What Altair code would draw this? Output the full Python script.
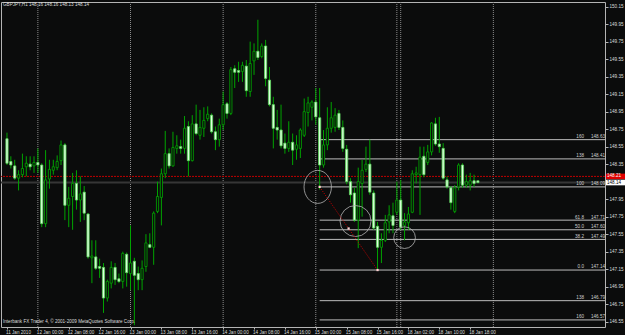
import altair as alt
import pandas as pd

symbol_title = "GBPJPY,H1  148.16 148.16 148.13 148.14"
copyright_text = "Interbank FX Trader 4, \u00a9 2001-2009 MetaQuotes Software Corp."

opens = [
    148.64, 148.38, 148.33, 148.19, 148.23, 148.32, 148.35, 148.33, 148.37, 148.34,
    147.67, 148.18, 148.28, 148.31, 148.39, 148.57, 147.88, 147.98, 148.13, 147.94,
    148.03, 147.78, 147.28, 147.29, 147.18, 147.17, 146.82, 146.99, 147.17, 147.04,
    147.01, 147.32, 147.10, 147.24, 147.10, 147.03, 147.18, 147.43, 147.40, 147.81,
    147.97, 148.24, 148.47, 148.33, 148.53, 148.55, 148.53, 148.78, 148.39, 148.81,
    148.68, 148.76, 148.87, 148.91, 148.72, 148.63, 148.80, 149.04, 148.93, 149.44,
    149.42, 149.41, 149.47, 149.18, 149.53, 149.64, 149.58, 149.70, 149.31, 149.03,
    148.77, 148.74, 148.59, 148.53, 148.60, 148.52, 148.53, 148.68, 148.94, 149.00,
    149.06, 148.88, 148.34, 148.57, 148.76, 148.77, 148.93, 148.77, 148.52, 148.15,
    148.02, 147.71, 148.13, 148.29, 148.35, 148.02, 147.64, 147.40, 147.48, 147.69,
    147.76, 147.80, 147.94, 147.65, 147.68, 147.80, 148.23, 148.23, 148.44, 148.37,
    148.49, 148.81, 148.58, 148.53, 148.17, 148.08, 147.81, 148.09, 148.34, 148.11,
    148.11, 148.16, 148.16,
]
highs = [
    148.71, 148.44, 148.40, 148.28, 148.47, 148.44, 148.44, 148.44, 148.53, 148.36,
    148.51, 148.40, 148.40, 148.45, 148.62, 148.59, 148.09, 148.25, 148.28, 148.21,
    148.10, 147.79, 147.48, 147.48, 147.27, 147.22, 147.03, 147.24, 147.22, 147.10,
    147.35, 147.34, 147.65, 147.28, 147.18, 147.25, 147.55, 147.56, 147.81, 148.15,
    148.30, 148.73, 148.53, 148.72, 148.68, 148.63, 148.90, 148.84, 148.91, 149.03,
    148.97, 149.00, 149.01, 148.93, 148.78, 148.87, 149.18, 149.06, 149.46, 149.48,
    149.52, 149.52, 149.54, 149.75, 149.73, 150.00, 149.73, 149.77, 149.46, 149.12,
    148.97, 149.03, 148.70, 148.84, 148.70, 148.68, 148.76, 149.10, 149.12, 149.08,
    149.22, 149.22, 148.74, 149.00, 149.06, 148.99, 148.97, 148.85, 148.57, 148.19,
    148.08, 148.31, 148.40, 148.55, 148.63, 148.05, 147.69, 147.56, 147.77, 147.88,
    147.91, 148.15, 148.17, 147.79, 147.86, 148.28, 148.32, 148.55, 148.55, 148.57,
    148.83, 148.88, 148.89, 148.59, 148.21, 148.10, 148.11, 148.36, 148.36, 148.23,
    148.25, 148.23, 148.16,
]
lows = [
    148.34, 148.30, 148.17, 148.05, 148.20, 148.21, 148.28, 148.25, 148.25, 147.63,
    147.63, 148.07, 148.23, 148.28, 148.34, 147.71, 147.63, 147.60, 147.83, 147.69,
    147.71, 147.27, 146.99, 147.14, 147.05, 146.65, 146.78, 146.93, 146.97, 146.99,
    146.93, 146.95, 146.91, 146.51, 146.91, 146.91, 147.12, 147.39, 147.20, 147.79,
    147.65, 148.19, 148.30, 148.32, 148.47, 148.47, 148.47, 148.21, 148.38, 148.68,
    148.63, 148.66, 148.84, 148.70, 148.51, 148.55, 148.74, 148.87, 148.91, 149.22,
    149.29, 149.29, 149.12, 149.12, 149.37, 149.54, 149.56, 149.24, 149.01, 148.53,
    148.63, 148.53, 148.47, 148.49, 148.34, 148.40, 148.42, 148.66, 148.78, 148.85,
    148.80, 148.06, 148.31, 148.51, 148.71, 148.72, 148.74, 148.49, 148.12, 147.91,
    147.69, 147.39, 147.75, 148.26, 148.00, 147.60, 147.14, 147.22, 147.46, 147.56,
    147.56, 147.77, 147.60, 147.48, 147.60, 147.79, 148.13, 147.77, 148.20, 148.34,
    148.45, 148.56, 148.48, 148.17, 148.07, 147.83, 147.79, 148.05, 148.08, 148.08,
    148.05, 148.09, 148.13,
]
closes = [
    148.36, 148.34, 148.19, 148.23, 148.30, 148.36, 148.32, 148.37, 148.34, 147.67,
    148.17, 148.29, 148.32, 148.38, 148.57, 147.88, 147.96, 148.13, 147.94, 148.01,
    147.79, 147.29, 147.30, 147.16, 147.16, 146.82, 147.01, 147.17, 147.03, 147.01,
    147.33, 147.11, 147.22, 147.08, 147.03, 147.16, 147.45, 147.40, 147.79, 147.98,
    148.24, 148.47, 148.33, 148.54, 148.56, 148.53, 148.76, 148.39, 148.81, 148.70,
    148.77, 148.85, 148.92, 148.72, 148.63, 148.80, 149.03, 148.93, 149.43, 149.40,
    149.40, 149.48, 149.19, 149.50, 149.64, 149.57, 149.70, 149.33, 149.03, 148.76,
    148.74, 148.56, 148.53, 148.60, 148.51, 148.57, 148.74, 148.95, 149.05, 149.06,
    148.89, 148.34, 148.57, 148.76, 148.88, 148.91, 148.77, 148.53, 148.15, 148.00,
    147.71, 148.15, 148.28, 148.35, 148.03, 147.62, 147.40, 147.48, 147.68, 147.77,
    147.65, 147.94, 147.63, 147.69, 147.78, 148.24, 148.25, 148.43, 148.23, 148.49,
    148.82, 148.58, 148.55, 148.19, 148.09, 147.91, 148.08, 148.34, 148.11, 148.15,
    148.16, 148.13, 148.14,
]

time_tick_bars = [0, 8, 16, 24, 32, 40, 48, 56, 64, 72, 80, 88, 96, 104, 112, 120]
time_tick_labels = [
    "11 Jan 2010", "12 Jan 00:00", "12 Jan 08:00", "12 Jan 16:00",
    "13 Jan 00:00", "13 Jan 08:00", "13 Jan 16:00", "14 Jan 00:00",
    "14 Jan 08:00", "14 Jan 16:00", "15 Jan 00:00", "15 Jan 08:00",
    "15 Jan 16:00", "18 Jan 02:00", "18 Jan 10:00", "18 Jan 18:00",
]
day_separator_bars = [8, 32, 56, 80, 101, 102, 126]
# 148.15 is hidden under the bid price box in the reference
price_ticks = [146.55, 146.75, 146.95, 147.15, 147.35, 147.55, 147.75, 147.95,
               148.35, 148.55, 148.75, 148.95, 149.15, 149.35, 149.55,
               149.75, 149.95, 150.15]

fib_level_names = ["160", "138", "100", "61.8", "50.0", "38.2", "0.0", "138", "160"]
fib_level_prices = [148.63, 148.41, 148.09, 147.71, 147.60, 147.49, 147.14, 146.79, 146.57]
fib_start_bar = 81

bid_price = 148.14
ask_price = 148.21

trend_bars = [81, 88.5, 96]
trend_prices = [148.09, 147.615, 147.14]

circle_bars = [80.5, 90.3, 103.0]
circle_prices = [148.09, 147.70, 147.51]

# ---------------------------------------------------------------- styling
BG = "#0b0c0c"
FONT = "Liberation Sans"
FS = 4.6
TXT = "#dcdcdc"

x_scale = alt.Scale(domain=[-0.255, 153.63], nice=False, zero=False)
y_scale = alt.Scale(domain=[146.489, 150.203], nice=False, zero=False)

labels_js = "[" + ",".join("'" + t + "'" for t in time_tick_labels) + "]"
bars_js = "[" + ",".join(str(b) for b in time_tick_bars) + "]"

x_axis = alt.Axis(
    values=time_tick_bars,
    labelExpr=labels_js + "[indexof(" + bars_js + ", datum.value)]",
    labelAlign="left", labelBaseline="top", labelOffset=-1.5,
    labelFont=FONT, labelFontSize=FS, labelColor=TXT, labelPadding=0,
    labelFlush=False, labelOverlap=False, labelBound=False,
    tickSize=2, tickColor="#b4b4b4", domain=False, grid=False, title=None,
)
y_axis = alt.Axis(
    orient="right", values=price_ticks, format=".2f",
    labelFont=FONT, labelFontSize=FS, labelColor=TXT, labelPadding=1,
    labelOverlap=False, labelFlush=False, labelBound=False,
    tickSize=3, tickColor="#b4b4b4", domain=False, grid=False, title=None,
)


def X(field):
    return alt.X(field, scale=x_scale, axis=x_axis)


def Y(field):
    return alt.Y(field, scale=y_scale, axis=y_axis)


bars = pd.DataFrame({
    "bar": list(range(len(opens))),
    "open": opens, "high": highs, "low": lows, "close": closes,
})

sep_df = pd.DataFrame({"bar": day_separator_bars})
fib_df = pd.DataFrame({
    "name": fib_level_names, "price": fib_level_prices,
    "start": [fib_start_bar] * len(fib_level_prices),
})
fib_df["value_text"] = [f"{p:.2f}" for p in fib_level_prices]
trend_df = pd.DataFrame({"bar": trend_bars, "price": trend_prices})
circ_df = pd.DataFrame({"bar": circle_bars, "price": circle_prices})
quote_df = pd.DataFrame({"price": [ask_price, bid_price], "kind": ["ask", "bid"]})
quote_df["text"] = [f"{p:.2f}" for p in quote_df["price"]]
quote_df["top"] = quote_df["price"] + 0.032
quote_df["bot"] = quote_df["price"] - 0.032
one = pd.DataFrame({"k": [0]})

separators = alt.Chart(sep_df).mark_rule(
    color="#8c8c8c", strokeDash=[1, 1], strokeWidth=1
).encode(x=X("bar:Q"))

fib_lines = alt.Chart(fib_df).mark_rule(color="#bdbdbd", strokeWidth=1).encode(
    x=X("start:Q"), x2=alt.value(604), y=Y("price:Q"),
)

bid_line = alt.Chart(quote_df).transform_filter("datum.kind == 'bid'").mark_rule(
    color="#363636", strokeWidth=2
).encode(y=Y("price:Q"))

ask_line = alt.Chart(quote_df).transform_filter("datum.kind == 'ask'").mark_rule(
    color="#c00000", strokeWidth=1, strokeDash=[2, 1]
).encode(y=Y("price:Q"))

wicks = alt.Chart(bars).mark_rule(color="#00a400", strokeWidth=1, clip=True).encode(
    x=X("bar:Q"), y=Y("low:Q"), y2="high:Q",
)

bodies = alt.Chart(bars).mark_bar(width=2.2, strokeWidth=0.8, clip=True).encode(
    x=X("bar:Q"), y=Y("open:Q"), y2="close:Q",
    fill=alt.condition("datum.close < datum.open", alt.value("#dcffdc"), alt.value(BG)),
    stroke=alt.condition("datum.close < datum.open", alt.value("#5ad85a"), alt.value("#00a800")),
)

ellipse_path = "M0.83,0A0.83,1,0,1,1,-0.83,0A0.83,1,0,1,1,0.83,0Z"
circle_shapes = [ellipse_path, "circle", "circle"]
circle_sizes = [1089, 961, 470]
circles = [
    alt.Chart(circ_df.iloc[[k]]).mark_point(
        shape=circle_shapes[k], size=circle_sizes[k], filled=False,
        color="#b4b4b4", strokeWidth=0.8, opacity=1,
    ).encode(x=X("bar:Q"), y=Y("price:Q"))
    for k in range(len(circle_bars))
]

trend = alt.Chart(trend_df).mark_line(
    color="#d40000", strokeWidth=1, strokeDash=[1, 1.5]
).encode(x=X("bar:Q"), y=Y("price:Q"))
trend_pts = alt.Chart(trend_df).mark_square(
    size=5, color="#ffd0d0", opacity=1, filled=True
).encode(x=X("bar:Q"), y=Y("price:Q"))

fib_names = alt.Chart(fib_df).mark_text(
    align="right", baseline="bottom", dy=-0.6, font=FONT, fontSize=FS, color="#cfcfcf"
).encode(x=alt.value(583), y=Y("price:Q"), text="name:N")
fib_values = alt.Chart(fib_df).mark_text(
    align="right", baseline="bottom", dy=-0.6, font=FONT, fontSize=FS, color="#cfcfcf"
).encode(x=alt.value(604), y=Y("price:Q"), text="value_text:N")

quote_boxes = alt.Chart(quote_df).mark_rect(clip=False).encode(
    x=alt.value(605), x2=alt.value(624),
    y=Y("top:Q"), y2="bot:Q",
    fill=alt.condition("datum.kind == 'ask'", alt.value("#e00000"), alt.value("#ffffff")),
)
quote_text = alt.Chart(quote_df).mark_text(
    align="left", baseline="middle", font=FONT, fontSize=FS
).encode(
    x=alt.value(606), y=Y("price:Q"), text="text:N",
    color=alt.condition("datum.kind == 'ask'", alt.value("#ffffff"), alt.value("#000000")),
)

title_mark = alt.Chart(one).mark_text(
    align="left", baseline="middle", font=FONT, fontSize=FS, color=TXT
).encode(x=alt.value(2), y=alt.value(3.2), text=alt.value(symbol_title))

copyright_mark = alt.Chart(one).mark_text(
    align="left", baseline="middle", font=FONT, fontSize=FS, color=TXT
).encode(x=alt.value(2), y=alt.value(319.8), text=alt.value(copyright_text))

chart = alt.layer(
    separators, fib_lines, bid_line, ask_line, wicks, bodies,
    *circles, trend, trend_pts, fib_names, fib_values,
    quote_boxes, quote_text, title_mark, copyright_mark,
).properties(
    width=604, height=325,
    padding={"left": 1, "top": 2, "right": 20, "bottom": 8},
    autosize=alt.AutoSizeParams(type="none"),
    background=BG,
).configure_view(
    stroke="#b4b4b4", strokeWidth=1, fill=BG,
)

chart.save("out.html", embed_options={"renderer": "svg", "actions": False})
